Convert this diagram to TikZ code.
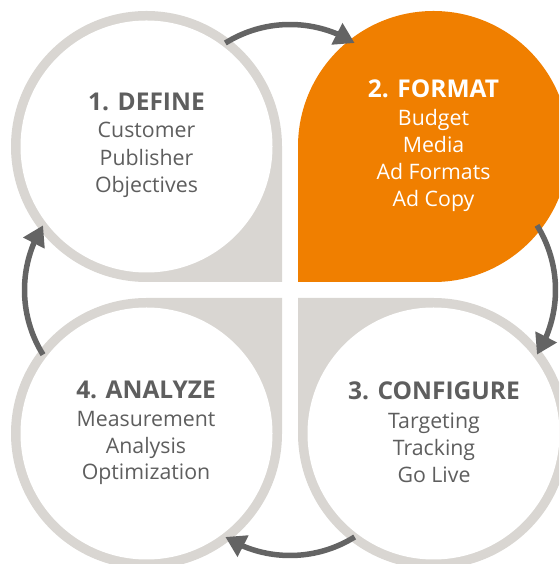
\documentclass[tikz,border=0pt]{standalone}
\usepackage{fontspec}
\setmainfont{Open Sans}
\usetikzlibrary{arrows.meta,bending}
\definecolor{ringgray}{HTML}{D9D6D2}
\definecolor{fmtorange}{HTML}{F07F00}
\definecolor{txtgray}{HTML}{5E5E5E}
\definecolor{arrgray}{HTML}{646464}
\begin{document}
\begin{tikzpicture}[x=1pt,y=1pt,
  title/.style={font=\bfseries\fontsize{24.5}{24.5}\selectfont, text=txtgray, anchor=base, inner sep=0pt},
  body/.style={font=\fontsize{21.3}{21.3}\selectfont, text=txtgray, anchor=base, inner sep=0pt},
  cyc/.style={draw=arrgray, line width=5.5pt, -{Triangle[length=20pt,width=23pt]}}]
\useasboundingbox (0,0) rectangle (559,564);
\clip (0,0) rectangle (559,564);
\coordinate (c1) at (146.5,417.5);
\coordinate (c2) at (433.5,417.5);
\coordinate (c3) at (433.5,130.5);
\coordinate (c4) at (146.5,130.5);
\coordinate (a12) at (290,417.5);
\coordinate (a23) at (433.5,274);
\coordinate (a34) at (290,130.5);
\coordinate (a41) at (146.5,274);
% teardrops
\fill[ringgray] (282,282) -- (282,417.5) arc[start angle=0,end angle=270,radius=135.5] -- cycle;
\fill[white] (c1) circle[radius=126];
\fill[fmtorange] (298,282) -- (433.5,282) arc[start angle=270,end angle=540,radius=135.5] -- cycle;
\fill[ringgray] (298,266) -- (298,130.5) arc[start angle=180,end angle=450,radius=135.5] -- cycle;
\fill[white] (c3) circle[radius=126];
\fill[ringgray] (282,266) -- (146.5,266) arc[start angle=90,end angle=360,radius=135.5] -- cycle;
\fill[white] (c4) circle[radius=126];
% arrows
\draw[cyc] (a12) ++(122:122) arc[start angle=122,end angle=58,radius=122];
\draw[cyc] (a23) ++(32:122) arc[start angle=32,end angle=-32,radius=122];
\draw[cyc] (a34) ++(-58:122) arc[start angle=-58,end angle=-122,radius=122];
\draw[cyc] (a41) ++(212:122) arc[start angle=212,end angle=148,radius=122];
% texts
\node[title] (h1) at (146.5,453) {1. DEFINE};
\node[body] (b1a) at (146.5,426) {Customer};
\node[body] (b1b) at (146.5,398) {Publisher};
\node[body] (b1c) at (146.5,371) {Objectives};
\node[title,text=white] (h2) at (433.5,466.3) {2. FORMAT};
\node[body,text=white] (b2a) at (433.5,438) {Budget};
\node[body,text=white] (b2b) at (433.5,411.3) {Media};
\node[body,text=white] (b2c) at (433.5,384) {Ad Formats};
\node[body,text=white] (b2d) at (433.5,357.3) {Ad Copy};
\node[title] (h3) at (434,164) {3. CONFIGURE};
\node[body] (b3a) at (434,135.7) {Targeting};
\node[body] (b3b) at (434,108.3) {Tracking};
\node[body] (b3c) at (434,81.7) {Go Live};
\node[title] (h4) at (146,165.7) {4. ANALYZE};
\node[body] (b4a) at (146,137.3) {Measurement};
\node[body] (b4b) at (146,110.7) {Analysis};
\node[body] (b4c) at (146,84) {Optimization};
\end{tikzpicture}
\end{document}
